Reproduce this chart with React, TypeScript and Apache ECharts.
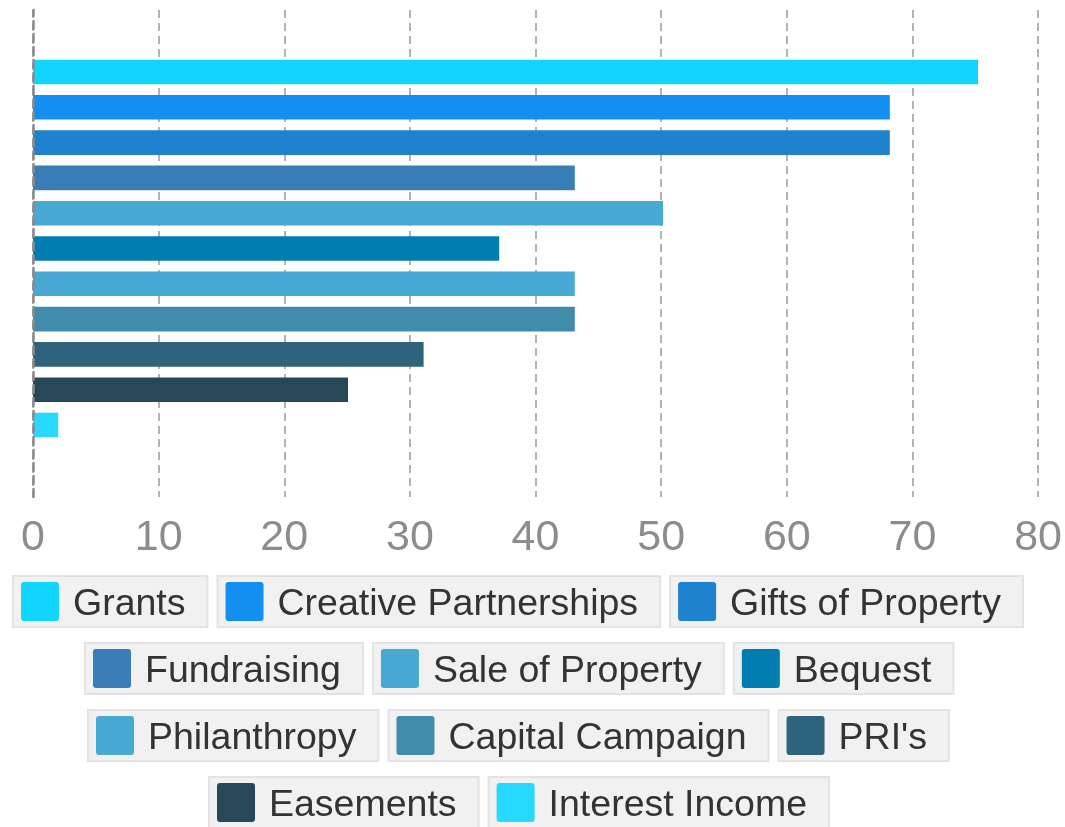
import React, { useEffect, useRef } from "react";
import * as echarts from "echarts";

const seriesNames = [
  "Grants",
  "Creative Partnerships",
  "Gifts of Property",
  "Fundraising",
  "Sale of Property",
  "Bequest",
  "Philanthropy",
  "Capital Campaign",
  "PRI's",
  "Easements",
  "Interest Income",
];
const seriesValues = [75, 68, 68, 43, 50, 37, 43, 43, 31, 25, 2];
const seriesColors = [
  "#10d5ff",
  "#128ff0",
  "#1f82cf",
  "#387db6",
  "#47a9d4",
  "#007eb2",
  "#47a9d4",
  "#418bab",
  "#2d637d",
  "#264858",
  "#27d9ff",
];
const legendRows = [
  ["Grants", "Creative Partnerships", "Gifts of Property"],
  ["Fundraising", "Sale of Property", "Bequest"],
  ["Philanthropy", "Capital Campaign", "PRI's"],
  ["Easements", "Interest Income"],
];
const axisMin = 0;
const axisMax = 80;
const axisInterval = 10;

const FONT = "'Liberation Sans', Arial, Helvetica, sans-serif";

export default function App() {
  const ref = useRef<HTMLDivElement>(null);

  useEffect(() => {
    if (!ref.current) return;
    const chart = echarts.init(ref.current, null, { renderer: "svg" });

    const rich: Record<string, any> = {
      t: {
        fontSize: 37.5,
        fontFamily: FONT,
        color: "#333333",
        padding: [0, 0, 0, 14],
        lineHeight: 39,
        verticalAlign: "middle",
      },
    };
    seriesColors.forEach((c, i) => {
      rich["i" + i] = {
        width: 38,
        height: 39,
        backgroundColor: c,
        borderRadius: 3,
        verticalAlign: "middle",
      };
    });

    const rowTops = [575, 642, 709, 776];
    const rowLefts = [9, 81, 84, 205];
    const legends = legendRows.map((row, r) => ({
      type: "plain",
      orient: "horizontal",
      left: rowLefts[r],
      top: rowTops[r],
      padding: 0,
      itemGap: 5,
      itemWidth: 0,
      itemHeight: 0,
      selectedMode: false,
      data: row,
      formatter: (name: string) => {
        const idx = seriesNames.indexOf(name);
        return `{i${idx}|}{t|${name}}`;
      },
      textStyle: {
        backgroundColor: "#f1f1f1",
        borderColor: "#e3e3e3",
        borderWidth: 2,
        padding: [5, 21, 5, 7],
        rich,
      },
    }));

    chart.setOption({
      animation: false,
      textStyle: { fontFamily: FONT },
      legend: legends,
      grid: [
        { left: 33, right: 24, top: 5, bottom: 335 },
        { left: 33, right: 24, top: 10, bottom: 330 },
      ],
      xAxis: [
        {
          type: "value",
          gridIndex: 0,
          min: axisMin,
          max: axisMax,
          interval: axisInterval,
          show: false,
        },
        {
          type: "value",
          gridIndex: 1,
          min: axisMin,
          max: axisMax,
          interval: axisInterval,
          axisLine: { show: false },
          axisTick: { show: false },
          splitLine: {
            show: true,
            lineStyle: { color: "#9a9a9a", width: 1.5, type: [8, 5] },
          },
          axisLabel: {
            fontSize: 43,
            color: "#8c8c8c",
            fontFamily: FONT,
            margin: 16,
          },
        },
      ],
      yAxis: [
        {
          type: "category",
          gridIndex: 0,
          data: [""],
          show: false,
        },
        {
          type: "category",
          gridIndex: 1,
          data: [""],
          z: 10,
          axisLine: {
            show: true,
            lineStyle: { color: "#8a8a8a", width: 2.5, type: [8, 5] },
          },
          axisTick: { show: false },
          axisLabel: { show: false },
          splitLine: { show: false },
        },
      ],
      series: seriesNames.map((name, i) => ({
        name,
        type: "bar",
        xAxisIndex: 0,
        yAxisIndex: 0,
        barWidth: 24.6,
        barGap: "43.5%",
        itemStyle: { color: seriesColors[i] },
        data: [seriesValues[i]],
      })),
    });

    return () => chart.dispose();
  }, []);

  return (
    <div
      ref={ref}
      style={{ position: "fixed", left: 0, top: 0, width: 1065, height: 827 }}
    />
  );
}
